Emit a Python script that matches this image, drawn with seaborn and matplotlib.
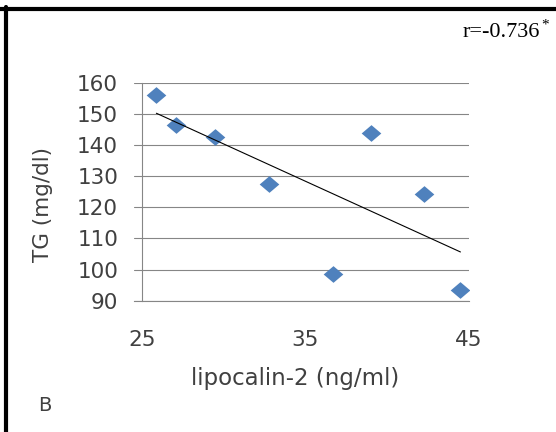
import matplotlib
matplotlib.use("Agg")
import matplotlib.pyplot as plt
from matplotlib.lines import Line2D
import seaborn as sns
import pandas as pd

# values
lipocalin = [25.9, 27.1, 29.5, 32.8, 36.7, 39.0, 42.3, 44.5]
tg = [156.1, 146.4, 142.4, 127.4, 98.6, 143.9, 124.1, 93.5]
y_ticks = [90, 100, 110, 120, 130, 140, 150, 160]
x_ticks = [25, 35, 45]

df = pd.DataFrame({"lipocalin": lipocalin, "tg": tg})

sns.set_style("white")
plt.rcParams["font.family"] = ["DejaVu Sans"]

fig = plt.figure(figsize=(5.56, 4.32), dpi=100)
ax = fig.add_axes([0.241, 0.304, 0.603, 0.5046])

diamond = [(-1, 0), (0, 0.85), (1, 0), (0, -0.85), (-1, 0)]
sns.regplot(data=df, x="lipocalin", y="tg", ax=ax, ci=None,
            marker=diamond,
            scatter_kws={"s": 200, "color": "#4F81BD", "alpha": 1, "linewidths": 0, "zorder": 3},
            line_kws={"color": "black", "lw": 0.8, "zorder": 4})

ax.set_xlim(24.53, 45.04)
ax.set_ylim(90, 160)
ax.set_xticks(x_ticks)
ax.set_yticks(y_ticks)
ax.grid(axis="y", color="#868686", lw=0.8)
ax.set_axisbelow(True)
for s in ["top", "right"]:
    ax.spines[s].set_visible(False)
ax.spines["left"].set_position(("data", 25))
ax.spines["left"].set_color("#868686")
ax.spines["bottom"].set_color("#868686")
ax.spines["left"].set_linewidth(0.8)
ax.spines["bottom"].set_linewidth(0.8)
txt = "#404040"
ax.tick_params(axis="y", length=0, pad=17, labelsize=15.5, colors=txt)
ax.tick_params(axis="x", length=0, pad=21, labelsize=15.5, colors=txt)
ax.set_xlabel("")
ax.set_ylabel("")

fig.text(295 / 556, 1 - 379 / 432, "lipocalin-2 (ng/ml)", fontsize=16.5,
         ha="center", va="center", color=txt)
fig.text(43 / 556, 1 - 205 / 432, "TG (mg/dl)", fontsize=15.5, rotation=90,
         ha="center", va="center", color=txt)
fig.text(38 / 556, 1 - 411 / 432, "B", fontsize=14, ha="left", va="baseline",
         color=txt)

fig.text(540 / 556, 1 - 37 / 432, "r=-0.736", fontsize=16, family="Liberation Serif",
         ha="right", va="baseline", color="black")
fig.text(541 / 556, 1 - 29 / 432, "*", fontsize=11, family="Liberation Serif",
         ha="left", va="baseline", color="black")

# panel frame (top and left rules)
fig.add_artist(Line2D([0, 1], [1 - 9 / 432, 1 - 9 / 432], color="black", lw=3,
                      transform=fig.transFigure))
fig.add_artist(Line2D([6 / 556, 6 / 556], [0, 1 - 7 / 432], color="black", lw=3,
                      transform=fig.transFigure))

fig.savefig("out.png", dpi=100)
